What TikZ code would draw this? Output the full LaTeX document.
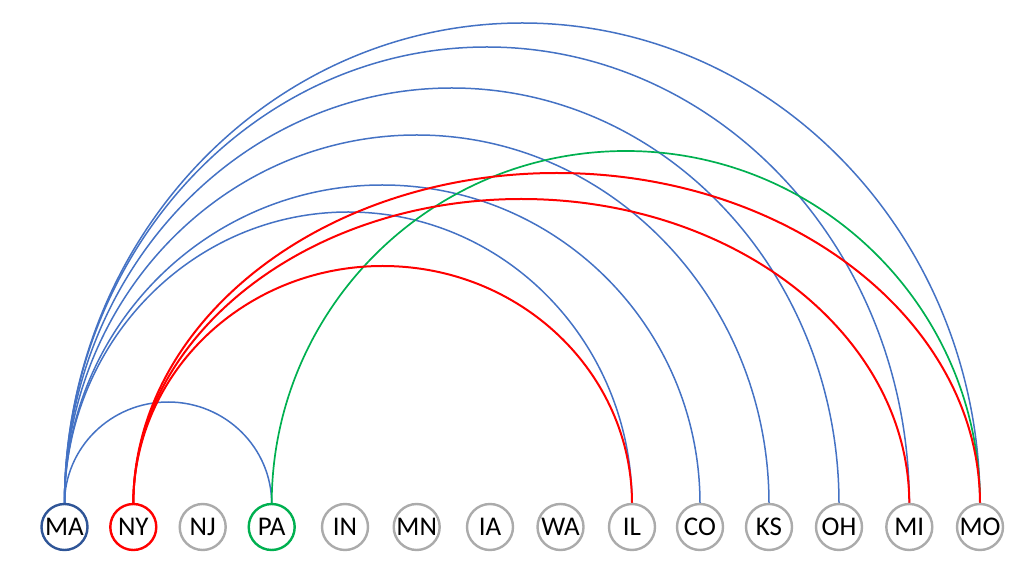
\documentclass[tikz,border=0pt]{standalone}
\usepackage{fontspec}
\setmainfont{Carlito}
\usetikzlibrary{calc,backgrounds}
\definecolor{arcblue}{HTML}{4472C4}
\definecolor{arcred}{HTML}{FF0000}
\definecolor{arcgreen}{HTML}{00B050}
\definecolor{madark}{HTML}{2F5597}
\definecolor{nodegray}{HTML}{ABABAB}
\tikzset{
  state/.style={circle, draw=nodegray, line width=2.4pt, fill=white, minimum size=46pt,
    inner sep=0pt, outer sep=0pt, font=\fontsize{27}{32}\selectfont},
  bluelink/.style={draw=arcblue, line width=1.5pt},
  redlink/.style={draw=arcred, line width=2pt},
  greenlink/.style={draw=arcgreen, line width=1.7pt},
}
\newcommand\linkarc[4]{%
  \draw[#4] let \p1=(#1.north), \p2=(#2.north) in
    (\p1) arc[start angle=180, end angle=0, x radius={(\x2-\x1)/2}, y radius=#3pt];}
\begin{document}
\begin{tikzpicture}[x=1pt,y=1pt]
\useasboundingbox (0,0) rectangle (1024,570);
\path
  (64.5,43)  node[state, draw=madark] (MA) {MA}
  (133.3,43) node[state, draw=arcred] (NY) {NY}
  (202.7,43) node[state] (NJ) {NJ}
  (271.7,43) node[state, draw=arcgreen] (PA) {PA}
  (345,43)   node[state] (IN) {IN}
  (416.7,43) node[state] (MN) {MN}
  (490,43)   node[state] (IA) {IA}
  (560.5,43) node[state] (WA) {WA}
  (632,43)   node[state] (IL) {IL}
  (700,43)   node[state] (CO) {CO}
  (769,43)   node[state] (KS) {KS}
  (839,43)   node[state] (OH) {OH}
  (909.3,43) node[state] (MI) {MI}
  (980,43)   node[state] (MO) {MO};
\begin{scope}[on background layer]
\linkarc{MA}{PA}{102}{bluelink}
\linkarc{MA}{IL}{292}{bluelink}
\linkarc{MA}{CO}{319}{bluelink}
\linkarc{MA}{KS}{369}{bluelink}
\linkarc{MA}{OH}{416}{bluelink}
\linkarc{MA}{MI}{457}{bluelink}
\linkarc{MA}{MO}{481}{bluelink}
\linkarc{PA}{MO}{353}{greenlink}
\linkarc{NY}{IL}{238}{redlink}
\linkarc{NY}{MI}{305}{redlink}
\linkarc{NY}{MO}{331}{redlink}
\end{scope}
\end{tikzpicture}
\end{document}
